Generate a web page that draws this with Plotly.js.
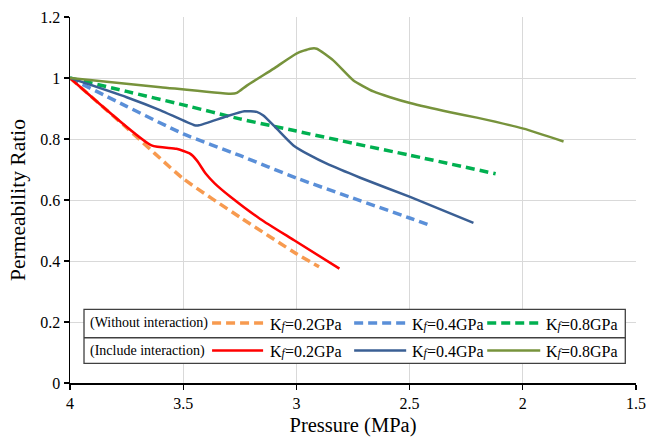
<!DOCTYPE html>
<html>
<head>
<meta charset="utf-8">
<script src="https://cdn.plot.ly/plotly-3.0.1.min.js"></script>
<style>html,body{margin:0;padding:0;background:#fff}#chart{width:659px;height:437px}</style>
</head>
<body>
<div id="chart"></div>
<script>
// ---- data ----
const woP02 = [4.0, 3.75, 3.5, 3.25, 3.0, 2.90];
const woK02 = [1.0, 0.837, 0.670, 0.544, 0.424, 0.381];

const woP04 = [4.0, 3.75, 3.5, 3.25, 3.0, 2.75, 2.5, 2.40];
const woK04 = [1.0, 0.907, 0.817, 0.746, 0.672, 0.606, 0.541, 0.514];

const woP08 = [4.0, 3.75, 3.5, 3.25, 3.0, 2.75, 2.5, 2.12];
const woK08 = [1.0, 0.956, 0.912, 0.866, 0.826, 0.786, 0.747, 0.686];

const wiP02 = [4.0, 3.64, 3.53, 3.47, 3.44, 3.40, 3.36, 3.29, 3.16, 3.01, 2.81];
const wiK02 = [1.0, 0.779, 0.768, 0.752, 0.730, 0.686, 0.654, 0.610, 0.538, 0.468, 0.375];

const wiP04 = [4.0, 3.75, 3.60, 3.45, 3.43, 3.31, 3.23, 3.175, 3.146, 3.087, 3.013, 2.939, 2.866, 2.718, 2.498, 2.218];
const wiK04 = [1.0, 0.937, 0.894, 0.845, 0.845, 0.874, 0.891, 0.889, 0.877, 0.834, 0.779, 0.746, 0.719, 0.673, 0.610, 0.525];

const wiP08 = [4.0, 3.60, 3.29, 3.263, 3.219, 3.102, 2.998, 2.939, 2.910, 2.836, 2.748, 2.660, 2.586, 2.498, 2.321, 2.203, 1.997, 1.820];
const wiK08 = [1.0, 0.970, 0.948, 0.951, 0.975, 1.030, 1.081, 1.096, 1.096, 1.057, 0.992, 0.956, 0.937, 0.918, 0.888, 0.870, 0.834, 0.792];

const rowLabels = ['(Without interaction)', '(Include interaction)'];
const kLabels = ['K<span style="font-size:12px"><i>f</i></span>=0.2GPa',
                 'K<span style="font-size:12px"><i>f</i></span>=0.4GPa',
                 'K<span style="font-size:12px"><i>f</i></span>=0.8GPa'];

const xTicks = [4, 3.5, 3, 2.5, 2, 1.5];
const yTicks = [0, 0.2, 0.4, 0.6, 0.8, 1, 1.2];

// ---- styles ----
const cOrange = '#F79A4F', cBlueD = '#5A8FD8', cGreenD = '#00B050';
const cRed = '#FF0000', cBlueS = '#3A5F94', cGreenS = '#77933C';
const dashStyle = '9px,5px';
const FONT = '"Liberation Serif", "Times New Roman", serif';

const series = [
  {x: woP02, y: woK02, color: cOrange, dash: dashStyle, w: 3.5},
  {x: woP04, y: woK04, color: cBlueD, dash: dashStyle, w: 3.5},
  {x: woP08, y: woK08, color: cGreenD, dash: dashStyle, w: 3.5},
  {x: wiP02, y: wiK02, color: cRed, dash: 'solid', w: 2.5},
  {x: wiP04, y: wiK04, color: cBlueS, dash: 'solid', w: 2.5},
  {x: wiP08, y: wiK08, color: cGreenS, dash: 'solid', w: 2.5}
];

const traces = series.map((s, i) => ({
  type: 'scatter', mode: 'lines', x: s.x, y: s.y,
  name: rowLabels[Math.floor(i / 3)] + ' K' + ['0.2', '0.4', '0.8'][i % 3],
  line: {color: s.color, width: s.w, dash: s.dash, shape: 'spline', smoothing: 0.5},
  showlegend: false, hoverinfo: 'x+y'
}));

// ---- layout geometry ----
const W = 659, H = 437;
const L = 70, R = 635.7, T = 16.5, B = 383;
const px = v => (v - L) / (R - L);
const py = v => (B - v) / (B - T);

const shapes = [];
const annotations = [];

// legend box
shapes.push({type: 'rect', xref: 'paper', yref: 'paper',
  x0: px(84), x1: px(625), y0: py(363.3), y1: py(309.3),
  line: {color: '#404040', width: 1.3}, fillcolor: '#ffffff', layer: 'above'});
shapes.push({type: 'line', xref: 'paper', yref: 'paper',
  x0: px(84), x1: px(625), y0: py(337.7), y1: py(337.7),
  line: {color: '#404040', width: 1.3}, layer: 'above'});

const rowY = [323, 350.5];
const sampleX = [[212, 263], [354, 406], [487, 540]];
const textX = [268, 410, 544];

rowLabels.forEach((lab, r) => {
  annotations.push({xref: 'paper', yref: 'paper', x: px(88), y: py(rowY[r]),
    xanchor: 'left', yanchor: 'middle', showarrow: false, text: lab,
    font: {family: FONT, size: 14, color: '#000'}});
  for (let k = 0; k < 3; k++) {
    const s = series[r * 3 + k];
    shapes.push({type: 'line', xref: 'paper', yref: 'paper',
      x0: px(sampleX[k][0]), x1: px(sampleX[k][1]), y0: py(rowY[r]), y1: py(rowY[r]),
      line: {color: s.color, width: s.w, dash: s.dash}, layer: 'above'});
    annotations.push({xref: 'paper', yref: 'paper', x: px(textX[k]), y: py(rowY[r] + 1),
      xanchor: 'left', yanchor: 'middle', showarrow: false, text: kLabels[k],
      font: {family: FONT, size: 16, color: '#000'}});
  }
});

const layout = {
  width: W, height: H,
  margin: {l: L, r: W - R, t: T, b: H - B, pad: 0},
  paper_bgcolor: '#fff', plot_bgcolor: '#fff',
  font: {family: FONT, size: 16, color: '#000'},
  showlegend: false,
  xaxis: {
    range: [4, 1.5], tickvals: xTicks, ticktext: xTicks.map(String),
    showgrid: true, gridcolor: '#d9d9d9', gridwidth: 1,
    showline: true, linecolor: '#000', linewidth: 1.5,
    ticks: 'outside', ticklen: 5, tickwidth: 1.3, tickcolor: '#000',
    zeroline: false, tickfont: {family: FONT, size: 16, color: '#000'},
    title: {text: 'Pressure (MPa)', font: {family: FONT, size: 20.5, color: '#000'}, standoff: 10}
  },
  yaxis: {
    range: [0, 1.2], tickvals: yTicks, ticktext: yTicks.map(String),
    showgrid: true, gridcolor: '#d9d9d9', gridwidth: 1,
    showline: true, linecolor: '#000', linewidth: 1.5,
    ticks: 'outside', ticklen: 5, tickwidth: 1.3, tickcolor: '#000',
    zeroline: false, tickfont: {family: FONT, size: 16, color: '#000'},
    title: {text: 'Permeability Ratio', font: {family: FONT, size: 21.5, color: '#000'}, standoff: 9}
  },
  shapes: shapes,
  annotations: annotations
};

Plotly.newPlot('chart', traces, layout, {displayModeBar: false, staticPlot: true});
</script>
</body>
</html>
